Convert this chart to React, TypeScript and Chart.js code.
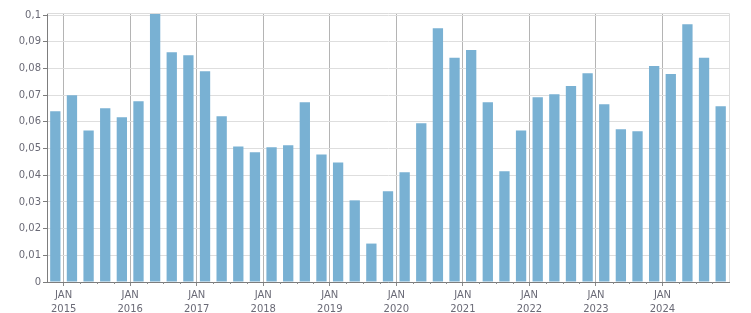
import React, { useEffect, useRef } from "react";
import { Chart, registerables } from "chart.js";

Chart.register(...registerables);

// Quarterly periods: Q4 2014 .. Q4 2024
const categories: string[] = [
  "2014 Q4",
  "2015 Q1", "2015 Q2", "2015 Q3", "2015 Q4",
  "2016 Q1", "2016 Q2", "2016 Q3", "2016 Q4",
  "2017 Q1", "2017 Q2", "2017 Q3", "2017 Q4",
  "2018 Q1", "2018 Q2", "2018 Q3", "2018 Q4",
  "2019 Q1", "2019 Q2", "2019 Q3", "2019 Q4",
  "2020 Q1", "2020 Q2", "2020 Q3", "2020 Q4",
  "2021 Q1", "2021 Q2", "2021 Q3", "2021 Q4",
  "2022 Q1", "2022 Q2", "2022 Q3", "2022 Q4",
  "2023 Q1", "2023 Q2", "2023 Q3", "2023 Q4",
  "2024 Q1", "2024 Q2", "2024 Q3", "2024 Q4",
];

const values: number[] = [
  0.0640,
  0.0700, 0.0568, 0.0651, 0.0617,
  0.0677, 0.1004, 0.0861, 0.0850,
  0.0790, 0.0621, 0.0508, 0.0486,
  0.0505, 0.0512, 0.0674, 0.0478,
  0.0448, 0.0306, 0.0144, 0.0340,
  0.0411, 0.0595, 0.0951, 0.0840,
  0.0869, 0.0674, 0.0415, 0.0568,
  0.0692, 0.0704, 0.0734, 0.0782,
  0.0666, 0.0572, 0.0565, 0.0809,
  0.0779, 0.0966, 0.0840, 0.0659,
];

const yearLabels: string[] = [
  "2015", "2016", "2017", "2018", "2019",
  "2020", "2021", "2022", "2023", "2024",
];
const monthLabel = "JAN";

const yTicks: number[] = [0, 0.01, 0.02, 0.03, 0.04, 0.05, 0.06, 0.07, 0.08, 0.09, 0.1];

const FONT = "'DejaVu Sans', Verdana, sans-serif";
const LABEL_COLOR = "#6a6a76";

function isJan(v: number) {
  return v >= 1 && v <= 37 && (v - 1) % 4 === 0;
}

const frame = {
  id: "frame",
  beforeDatasetsDraw(chart: any) {
    const { ctx, chartArea } = chart;
    ctx.save();
    ctx.strokeStyle = "#dcdcdc";
    ctx.lineWidth = 1;
    ctx.beginPath();
    ctx.moveTo(chartArea.left, Math.round(chartArea.top) + 0.5);
    ctx.lineTo(Math.round(chartArea.right) + 0.5, Math.round(chartArea.top) + 0.5);
    ctx.lineTo(Math.round(chartArea.right) + 0.5, chartArea.bottom);
    ctx.stroke();
    // short minor tick marks at quarter boundaries
    const xs = chart.scales.x;
    ctx.strokeStyle = "#8a8a8a";
    ctx.beginPath();
    for (let i = 1; i < categories.length; i++) {
      if (isJan(i)) continue;
      const px = Math.round(xs.getPixelForValue(i)) + 0.5;
      ctx.moveTo(px, chartArea.bottom);
      ctx.lineTo(px, chartArea.bottom + 2);
    }
    ctx.stroke();
    ctx.restore();
  },
};

export default function App() {
  const ref = useRef<HTMLCanvasElement | null>(null);

  useEffect(() => {
    document.body.style.margin = "0";
    const canvas = ref.current!;
    const data = values.map((v, i) => ({ x: i + 0.5, y: v, label: categories[i] }));
    const chart = new Chart(canvas, {
      type: "bar",
      data: {
        datasets: [
          {
            data: data as any,
            backgroundColor: "#79b1d3",
            borderWidth: 0,
            barPercentage: 0.62,
            categoryPercentage: 1,
          },
        ],
      },
      plugins: [frame],
      options: {
        animation: false,
        responsive: false,
        devicePixelRatio: 1,
        layout: { padding: { top: 13, right: 22, left: 0, bottom: 0 } },
        plugins: { legend: { display: false }, tooltip: { enabled: false } },
        scales: {
          x: {
            type: "linear",
            min: 0,
            max: categories.length,
            offset: false,
            afterFit: (s: any) => {
              s.height = 31;
            },
            afterBuildTicks: (s: any) => {
              const t = [];
              for (let i = 0; i <= categories.length; i++) t.push({ value: i });
              s.ticks = t;
            },
            border: { display: true, color: "#7d7d7d", width: 1 },
            grid: {
              offset: false,
              drawTicks: true,
              tickLength: 4,
              color: (c: any) => (c.tick && isJan(c.tick.value) ? "#b4b4b4" : "rgba(0,0,0,0)"),
              tickColor: (c: any) => (c.tick && isJan(c.tick.value) ? "#8a8a8a" : "rgba(0,0,0,0)"),
            },
            ticks: {
              autoSkip: false,
              maxRotation: 0,
              minRotation: 0,
              padding: 2,
              color: LABEL_COLOR,
              font: { family: FONT, size: 10, lineHeight: 1.4 },
              callback: (v: any) => {
                const n = Number(v);
                if (!isJan(n)) return "";
                return [monthLabel, yearLabels[(n - 1) / 4]];
              },
            },
          },
          y: {
            min: 0,
            max: 0.1008,
            afterFit: (s: any) => {
              s.width = 47;
            },
            afterBuildTicks: (s: any) => {
              s.ticks = yTicks.map((v) => ({ value: v }));
            },
            border: { display: true, color: "#7d7d7d", width: 1 },
            grid: {
              color: "#dedede",
              tickColor: "#7d7d7d",
              tickLength: 4,
              drawTicks: true,
            },
            ticks: {
              padding: 2,
              color: LABEL_COLOR,
              font: { family: FONT, size: 10 },
              callback: (v: any) => {
                const n = Math.round(Number(v) * 100) / 100;
                if (n === 0) return "0";
                return String(n).replace(".", ",");
              },
            },
          },
        },
      },
    });
    return () => chart.destroy();
  }, []);

  return (
    <div style={{ position: "absolute", left: 0, top: 0, width: 751, height: 313 }}>
      <canvas ref={ref} width={751} height={313} />
    </div>
  );
}
